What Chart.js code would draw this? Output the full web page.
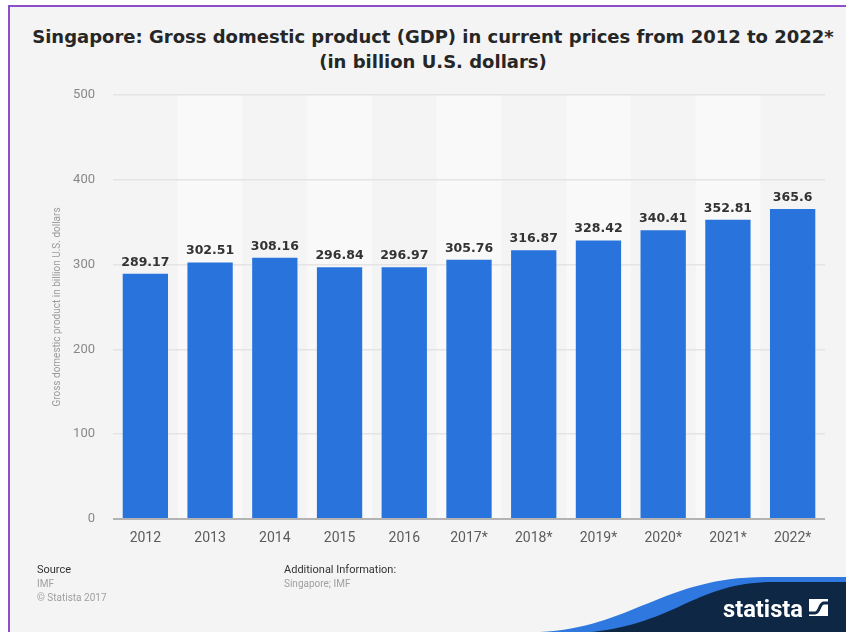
<!DOCTYPE html>
<html>
<head>
<meta charset="utf-8">
<script src="https://cdn.jsdelivr.net/npm/chart.js@4"></script>
<style>
  body { margin: 0; background: #fff; width: 846px; height: 632px; overflow: hidden; position: relative; font-family: Roboto, "Open Sans", sans-serif; }
  .frame { position: absolute; left: 8px; top: 5px; right: 0; bottom: 0; background: #f4f4f4; border-left: 2px solid #8c4fc9; border-top: 2px solid #8c4fc9; }
  .title { position: absolute; left: 18px; width: 830px; text-align: center; font-family: "DejaVu Sans", sans-serif; font-weight: bold; font-size: 18px; color: #262626; }
  canvas { position: absolute; left: 0; top: 0; }
  .foot { position: absolute; font-size: 11px; color: #333; line-height: 14px; }
  .foot span { display: block; color: #a0a0a0; font-size: 10px; }
  svg { position: absolute; left: 0; top: 0; }
</style>
</head>
<body>
<div class="frame"></div>
<div class="title" style="top:26px">Singapore: Gross domestic product (GDP) in current prices from 2012 to 2022*</div>
<div class="title" style="top:51px">(in billion U.S. dollars)</div>
<canvas id="gdpChart" width="846" height="632"></canvas>
<div class="foot" style="left:37px; top:563px">Source<span>IMF</span><span>© Statista 2017</span></div>
<div class="foot" style="left:284px; top:563px">Additional Information:<span>Singapore; IMF</span></div>
<svg width="846" height="632">
  <path d="M540 632 C 630 628, 665 577, 765 577 L 846 577 L 846 632 Z" fill="#2f78e0"/>
  <path d="M592 632 C 680 622, 695 582, 775 582 L 846 582 L 846 632 Z" fill="#0e2744"/>
  <text x="723" y="617" fill="#fff" font-family="Roboto, sans-serif" font-weight="bold" font-size="23" textLength="80" lengthAdjust="spacingAndGlyphs">statista</text>
  <rect x="809" y="599" width="19" height="17" fill="#fff"/>
  <path d="M809 613 L 815 613 C 820 613, 819 603, 824 603 L 828 603" stroke="#0e2744" stroke-width="3" fill="none"/>
</svg>
<script>
const years = ['2012', '2013', '2014', '2015', '2016', '2017*', '2018*', '2019*', '2020*', '2021*', '2022*'];
const gdp = [289.17, 302.51, 308.16, 296.84, 296.97, 305.76, 316.87, 328.42, 340.41, 352.81, 365.6];
const yTicks = [0, 100, 200, 300, 400, 500];

// lighter background on every second column
const columnBands = {
  id: 'columnBands',
  beforeDraw(chart) {
    const { ctx, chartArea, scales: { x } } = chart;
    const w = x.width / years.length;
    ctx.save();
    ctx.fillStyle = '#f9f9f9';
    years.forEach((y, i) => {
      if (i % 2 === 1) {
        const cx = x.getPixelForValue(i);
        ctx.fillRect(cx - w / 2, chartArea.top, w, chartArea.bottom - chartArea.top);
      }
    });
    ctx.restore();
  }
};

// value printed above each bar
const barValues = {
  id: 'barValues',
  afterDatasetsDraw(chart) {
    const ctx = chart.ctx;
    const meta = chart.getDatasetMeta(0);
    ctx.save();
    ctx.font = 'bold 12.5px "DejaVu Sans", sans-serif';
    ctx.fillStyle = '#333';
    ctx.textAlign = 'center';
    ctx.textBaseline = 'bottom';
    meta.data.forEach((bar, i) => {
      ctx.fillText(String(gdp[i]), bar.x, bar.y - 5);
    });
    ctx.restore();
  }
};

new Chart(document.getElementById('gdpChart'), {
  type: 'bar',
  data: {
    labels: years,
    datasets: [{
      data: gdp,
      backgroundColor: '#2874dc',
      categoryPercentage: 1,
      barPercentage: 0.7
    }]
  },
  options: {
    responsive: false,
    animation: false,
    layout: { padding: { left: 51, right: 21, top: 95, bottom: 83 } },
    plugins: { legend: { display: false }, tooltip: { enabled: false } },
    scales: {
      x: {
        grid: { display: false },
        border: { display: false },
        ticks: { color: '#5c5c5c', padding: 3, font: { family: 'Roboto', size: 14 } },
        afterFit(s) { s.height = 30; }
      },
      y: {
        min: 0,
        max: 500,
        afterBuildTicks(s) { s.ticks = yTicks.map(v => ({ value: v })); },
        border: { display: false },
        grid: {
          drawTicks: false,
          color: c => c.tick && c.tick.value === 0 ? '#b3b3b3' : '#e4e4e4',
          lineWidth: c => c.tick && c.tick.value === 0 ? 2 : 1.5
        },
        ticks: { color: '#888', padding: 18, font: { family: 'Roboto', size: 13 } },
        title: {
          display: true,
          text: 'Gross domestic product in billion U.S. dollars',
          color: '#9a9a9a',
          padding: 0,
          font: { family: 'Roboto', size: 10 }
        },
        afterFit(s) { s.width = 62; }
      }
    }
  },
  plugins: [columnBands, barValues]
});
</script>
</body>
</html>
